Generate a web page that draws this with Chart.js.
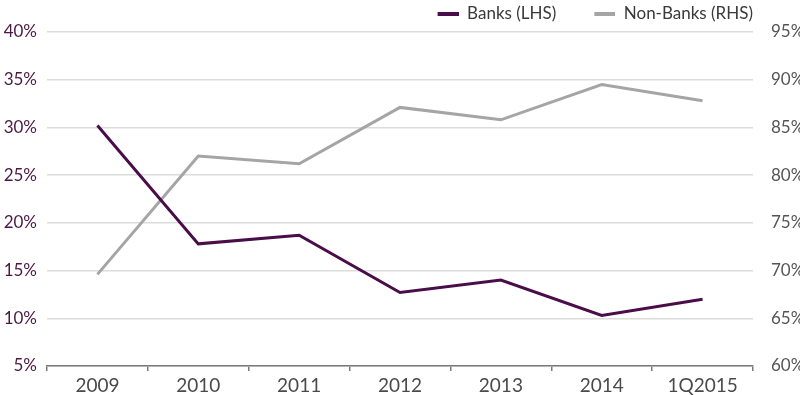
<!DOCTYPE html>
<html><head><meta charset="utf-8">
<script src="https://cdn.jsdelivr.net/npm/chart.js@4"></script>
<style>html,body{margin:0;padding:0;background:#fff}#w{width:800px;height:395px}</style>
</head><body><div id="w"><canvas id="c"></canvas></div>
<script>
const categories = ['2009','2010','2011','2012','2013','2014','1Q2015'];
const banks = [30.2, 17.8, 18.7, 12.7, 14.0, 10.3, 12.0];
const nonBanks = [69.6, 82.0, 81.2, 87.1, 85.8, 89.5, 87.8];
const leftTicks = [5,10,15,20,25,30,35,40];
const rightTicks = [60,65,70,75,80,85,90,95];
const FONT = 'Lato, "Open Sans", sans-serif';
const PURPLE = '#4a0d4a', GREY = '#a5a5a7';
function marker(color) {
  const cv = document.createElement('canvas');
  cv.width = 59; cv.height = 4;
  const g = cv.getContext('2d');
  g.fillStyle = color; g.fillRect(38, 0, 21, 4);
  return cv;
}
new Chart(document.getElementById('c'), {
  type: 'line',
  data: { labels: categories, datasets: [
    { label: 'Banks (LHS)', data: banks, yAxisID: 'yL', borderColor: PURPLE, backgroundColor: PURPLE, borderWidth: 3, pointRadius: 0, pointStyle: marker(PURPLE), tension: 0 },
    { label: 'Non-Banks (RHS)', data: nonBanks, yAxisID: 'yR', borderColor: GREY, backgroundColor: GREY, borderWidth: 3, pointRadius: 0, pointStyle: marker(GREY), tension: 0 }
  ]},
  options: {
    responsive: true, maintainAspectRatio: false, animation: false,
    layout: { padding: { top: 5, left: 0, right: 0, bottom: 0 } },
    plugins: {
      tooltip: { enabled: false },
      legend: { position: 'top', align: 'end', fullSize: false,
        labels: { usePointStyle: true, pointStyleWidth: 59, boxHeight: 4, padding: 0, color: '#3a3a3a', font: { family: FONT, size: 17 } } }
    },
    scales: {
      x: { offset: true,
        afterFit: s => { s.height = 29; },
        grid: { offset: true, drawOnChartArea: false, drawTicks: true, tickLength: 5, color: '#7a7a7a', lineWidth: 1.5 },
        border: { display: true, color: '#7a7a7a', width: 1.5 },
        ticks: { color: '#4a4a4a', font: { family: FONT, size: 19, lineHeight: 1 }, padding: 5 } },
      yL: { position: 'left', min: 5, max: 40,
        afterBuildTicks: s => { s.ticks = leftTicks.map(v => ({ value: v })); },
        afterFit: s => { s.width = 47; },
        grid: { drawTicks: false, color: '#dcdcdc', lineWidth: 1.5 },
        border: { display: false },
        ticks: { color: '#4a1846', padding: 10, font: { family: FONT, size: 17 }, callback: v => v + '%' } },
      yR: { position: 'right', min: 60, max: 95,
        afterBuildTicks: s => { s.ticks = rightTicks.map(v => ({ value: v })); },
        afterFit: s => { s.width = 47; },
        grid: { display: false },
        border: { display: false },
        ticks: { color: '#555', padding: 10, font: { family: FONT, size: 17 }, callback: v => v + '%' } }
    }
  }
});
</script></body></html>
